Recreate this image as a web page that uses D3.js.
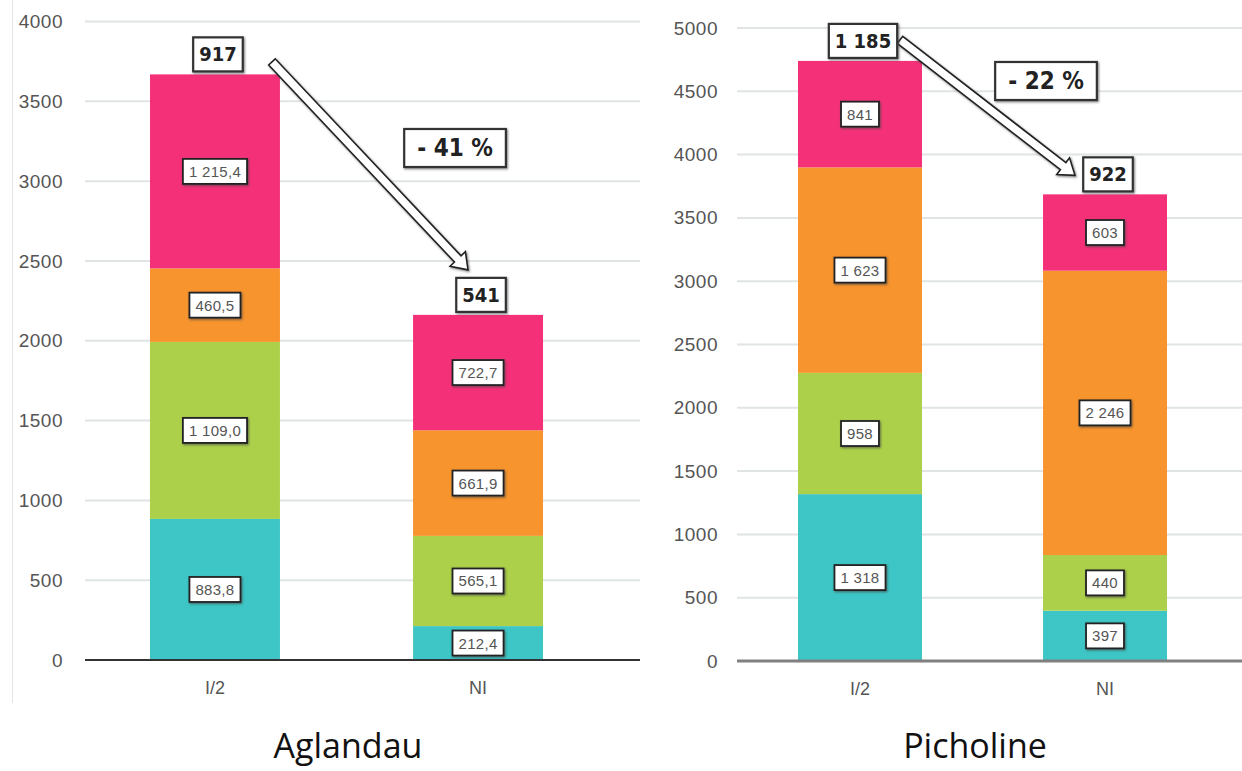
<!DOCTYPE html>
<html>
<head>
<meta charset="utf-8">
<script src="https://cdn.jsdelivr.net/npm/d3@7"></script>
<style>
  body { margin: 0; background: #fff; }
  svg { display: block; }
</style>
</head>
<body>
<svg id="chart" width="1242" height="771"></svg>
<script>
// ---- data ----
const categories = ["I/2", "NI"];
const cultivars = ["Aglandau", "Picholine"];

// stacked layers, bottom to top
const aglandauLayer1 = [883.8, 212.4];
const aglandauLayer2 = [1109.0, 565.1];
const aglandauLayer3 = [460.5, 661.9];
const aglandauLayer4 = [1215.4, 722.7];

const picholineLayer1 = [1318, 397];
const picholineLayer2 = [958, 440];
const picholineLayer3 = [1623, 2246];
const picholineLayer4 = [841, 603];

// values printed above each bar
const aglandauTotals = [917, 541];
const picholineTotals = [1185, 922];

const changeLabels = ["- 41 %", "- 22 %"];

const aglandauTicks = [0, 500, 1000, 1500, 2000, 2500, 3000, 3500, 4000];
const picholineTicks = [0, 500, 1000, 1500, 2000, 2500, 3000, 3500, 4000, 4500, 5000];

const layerColors = ["#3dc6c5", "#acd04a", "#f7942d", "#f43178"];

// ---- formatting ----
const fr = d3.formatLocale({ decimal: ",", thousands: "\u00a0", grouping: [3], currency: ["", ""] });
const fmt1 = fr.format(",.1f");
const fmt0 = fr.format(",.0f");

// ---- panel layout ----
const panels = [
  {
    name: cultivars[0],
    layers: [aglandauLayer1, aglandauLayer2, aglandauLayer3, aglandauLayer4],
    totals: aglandauTotals,
    change: changeLabels[0],
    ticks: aglandauTicks,
    fmt: fmt1,
    yRange: [660, 21.5],
    xRange: [85, 608], padIn: 0.506, padOut: 0.247,
    gridX: [85, 640],
    tickX: 63,
    baseColor: "#333", baseWidth: 2,
    titleX: 348,
    changeAt: { dxFromNI: -23, y: 148 },
    arrowFrom: { dx: -8, dy: -12.5 },   // relative to right/top of first bar
    arrowTo: { dx: -10, dy: -45 }       // relative to center/top of second bar
  },
  {
    name: cultivars[1],
    layers: [picholineLayer1, picholineLayer2, picholineLayer3, picholineLayer4],
    totals: picholineTotals,
    change: changeLabels[1],
    ticks: picholineTicks,
    fmt: fmt0,
    yRange: [661, 28],
    xRange: [737, 1228], padIn: 0.494, padOut: 0.249,
    gridX: [737, 1242],
    tickX: 718,
    baseColor: "#808080", baseWidth: 3,
    titleX: 975,
    changeAt: { dxFromNI: -59, y: 81 },
    arrowFrom: { dx: -22, dy: -21 },
    arrowTo: { dx: -30, dy: -19 }
  }
];

const svg = d3.select("#chart");

// soft shadow for the boxed labels and arrows
const defs = svg.append("defs");
const sh = defs.append("filter").attr("id", "shadow")
  .attr("x", "-20%").attr("y", "-20%").attr("width", "140%").attr("height", "140%");
sh.append("feDropShadow").attr("dx", 1).attr("dy", 1.2).attr("stdDeviation", 0.8)
  .attr("flood-color", "#444").attr("flood-opacity", 0.7);

// thin frame line at the far left
svg.append("line").attr("x1", 12.5).attr("x2", 12.5).attr("y1", 0).attr("y2", 703)
  .attr("stroke", "#e4e4e4").attr("stroke-width", 1);

const boldFont = "'Liberation Sans Narrow', 'DejaVu Sans Condensed', 'Roboto Condensed', 'Liberation Sans', Arial, sans-serif";
const plainFont = "'Liberation Sans', Arial, sans-serif";

function boxedLabel(g, cx, cy, text, opts) {
  const grp = g.append("g");
  const t = grp.append("text")
    .attr("x", cx).attr("y", cy)
    .attr("text-anchor", "middle").attr("dominant-baseline", "central")
    .attr("font-family", opts.font).attr("font-size", opts.size)
    .attr("font-weight", opts.weight).attr("fill", opts.color)
    .attr("letter-spacing", opts.spacing || 0)
    .text(text);
  const bb = t.node().getBBox();
  const w = bb.width + opts.padX * 2, h = opts.h;
  grp.insert("rect", "text")
    .attr("x", cx - w / 2).attr("y", cy - h / 2)
    .attr("width", w).attr("height", h)
    .attr("fill", "#fff").attr("stroke", opts.stroke).attr("stroke-width", opts.strokeWidth)
    .attr("filter", "url(#shadow)");
  return grp;
}

function arrowPath(x1, y1, x2, y2, sw, hw, hl) {
  const dx = x2 - x1, dy = y2 - y1, L = Math.hypot(dx, dy);
  const ux = dx / L, uy = dy / L, nx = -uy, ny = ux;
  const bx = x2 - ux * hl, by = y2 - uy * hl;
  const p = [
    [x1 + nx * sw, y1 + ny * sw],
    [bx + nx * sw, by + ny * sw],
    [bx + nx * hw, by + ny * hw],
    [x2, y2],
    [bx - nx * hw, by - ny * hw],
    [bx - nx * sw, by - ny * sw],
    [x1 - nx * sw, y1 - ny * sw]
  ];
  return "M" + p.map(d => d.join(",")).join("L") + "Z";
}

panels.forEach(P => {
  const g = svg.append("g");
  const y = d3.scaleLinear().domain([0, d3.max(P.ticks)]).range(P.yRange);
  const x = d3.scaleBand().domain(categories).range(P.xRange)
    .paddingInner(P.padIn).paddingOuter(P.padOut);

  // gridlines
  g.selectAll(".grid").data(P.ticks.filter(d => d > 0)).join("line")
    .attr("x1", P.gridX[0]).attr("x2", P.gridX[1])
    .attr("y1", d => y(d)).attr("y2", d => y(d))
    .attr("stroke", "#e0e4e4").attr("stroke-width", 2);

  // y tick labels
  const yAxis = d3.axisLeft(y).tickValues(P.ticks).tickSize(0).tickPadding(0).tickFormat(d3.format("d"));
  const ya = g.append("g").attr("transform", `translate(${P.tickX},0)`).call(yAxis);
  ya.select(".domain").remove();
  ya.selectAll("text")
    .attr("font-family", plainFont).attr("font-size", 19)
    .attr("fill", "#555").attr("letter-spacing", 0.5);

  // stacked bars
  const rows = categories.map((c, i) => {
    const r = { cat: c };
    P.layers.forEach((L, k) => r["k" + k] = L[i]);
    return r;
  });
  const keys = P.layers.map((_, k) => "k" + k);
  const stacked = d3.stack().keys(keys)(rows);

  stacked.forEach((layer, k) => {
    g.selectAll(null).data(layer).join("rect")
      .attr("x", d => x(d.data.cat)).attr("width", x.bandwidth())
      .attr("y", d => y(d[1])).attr("height", d => y(d[0]) - y(d[1]))
      .attr("fill", layerColors[k]);
  });

  // baseline
  g.append("line")
    .attr("x1", P.gridX[0]).attr("x2", P.gridX[1])
    .attr("y1", y(0)).attr("y2", y(0))
    .attr("stroke", P.baseColor).attr("stroke-width", P.baseWidth);

  // x category labels
  const xAxis = d3.axisBottom(x).tickSize(0).tickPadding(0);
  const xa = g.append("g").attr("transform", `translate(0,${y(0) + 28})`).call(xAxis);
  xa.select(".domain").remove();
  xa.selectAll("text")
    .attr("font-family", plainFont).attr("font-size", 18).attr("fill", "#555")
    .attr("dy", "0.35em").attr("y", 0);

  // segment value labels
  stacked.forEach(layer => {
    layer.forEach(d => {
      const cx = x(d.data.cat) + x.bandwidth() / 2;
      const cy = (y(d[0]) + y(d[1])) / 2;
      boxedLabel(g, cx, cy, P.fmt(d[1] - d[0]), {
        font: plainFont, size: 15, weight: 400, color: "#555", spacing: 0.3,
        padX: 6, h: 25, stroke: "#222", strokeWidth: 1.8
      });
    });
  });

  // arrow between the two bar tops
  const tops = rows.map(r => d3.sum(keys, k => r[k]));
  const x1 = x(categories[0]) + x.bandwidth() + P.arrowFrom.dx;
  const y1 = y(tops[0]) + P.arrowFrom.dy;
  const x2 = x(categories[1]) + x.bandwidth() / 2 + P.arrowTo.dx;
  const y2 = y(tops[1]) + P.arrowTo.dy;
  g.append("path")
    .attr("d", arrowPath(x1, y1, x2, y2, 4.5, 10.5, 15))
    .attr("fill", "#fff").attr("stroke", "#222").attr("stroke-width", 1.6)
    .attr("stroke-linejoin", "miter").attr("filter", "url(#shadow)");

  // totals above bars
  categories.forEach((c, i) => {
    const cx = x(c) + x.bandwidth() / 2 + 3;
    const cy = y(tops[i]) - 20;
    boxedLabel(g, cx, cy, fmt0(P.totals[i]), {
      font: boldFont, size: 20, weight: 700, color: "#222",
      padX: 6, h: 34, stroke: "#333", strokeWidth: 2.2
    });
  });

  // percentage change
  boxedLabel(g, x(categories[1]) + x.bandwidth() / 2 + P.changeAt.dxFromNI, P.changeAt.y, P.change, {
    font: boldFont, size: 24, weight: 700, color: "#222",
    padX: 13, h: 38, stroke: "#333", strokeWidth: 2.2
  });

  // cultivar title
  g.append("text")
    .attr("x", P.titleX).attr("y", 758)
    .attr("text-anchor", "middle")
    .attr("font-family", "'Open Sans', 'Noto Sans', sans-serif")
    .attr("font-size", 34).attr("fill", "#111")
    .text(P.name);
});
</script>
</body>
</html>
